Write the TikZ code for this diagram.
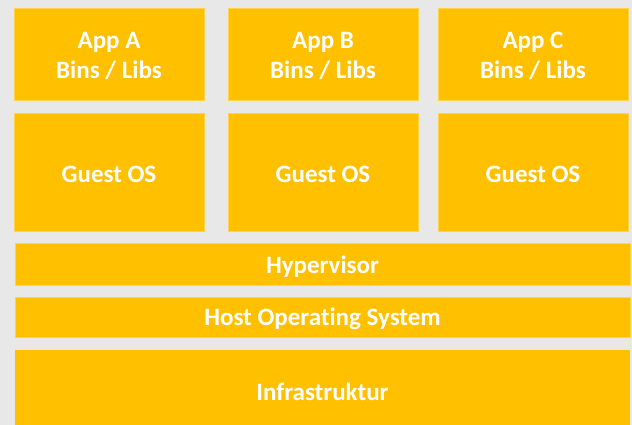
\documentclass[tikz,border=0pt]{standalone}
\usepackage{fontspec}
\setmainfont[Ligatures=NoCommon]{Carlito}
\definecolor{bg}{HTML}{E8E8E8}
\definecolor{gold}{HTML}{FFC000}
\begin{document}
\begin{tikzpicture}[x=1pt,y=-1pt,
  layer/.style={fill=gold,draw=gold!70!white,line width=0.6pt},
  lbl/.style={text=white,font=\bfseries\fontsize{25}{30}\selectfont,align=center,inner sep=0pt,yshift=-2pt}]
\fill[bg] (0,0) rectangle (632,425);
\useasboundingbox (0,0) rectangle (632,425);
% top row
\draw[layer] (14,8) rectangle (204,100.5) node[lbl,midway] (appa) {App A\\Bins / Libs};
\draw[layer] (228,8) rectangle (418,100.5) node[lbl,midway] (appb) {App B\\Bins / Libs};
\draw[layer] (438,8) rectangle (628,100.5) node[lbl,midway] (appc) {App C\\Bins / Libs};
% guest OS row
\draw[layer] (14,113) rectangle (204,231) node[lbl,midway] (ga) {Guest OS};
\draw[layer] (228,113) rectangle (418,231) node[lbl,midway] (gb) {Guest OS};
\draw[layer] (438,113) rectangle (628,231) node[lbl,midway] (gc) {Guest OS};
% bars
\draw[layer] (15,243.5) rectangle (630,285) node[lbl,midway] (hyp) {Hypervisor};
\draw[layer] (15,297) rectangle (630,337) node[lbl,midway] (host) {Host Operating System};
\fill[gold] (15,349.5) rectangle (630,426);
\node[lbl] (infra) at (322.5,390) {Infrastruktur};
\end{tikzpicture}
\end{document}
